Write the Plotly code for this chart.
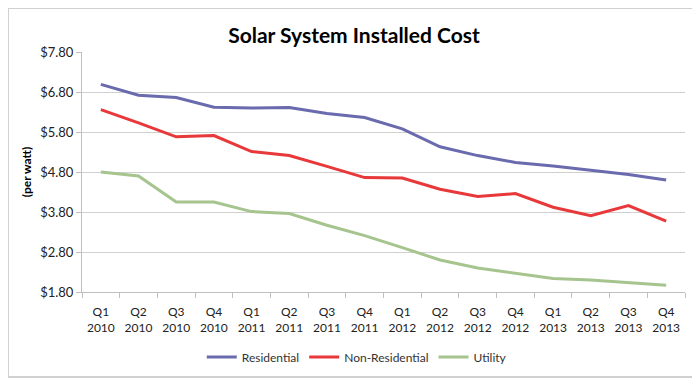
import plotly.graph_objects as go

quarters = ["Q1<br>2010", "Q2<br>2010", "Q3<br>2010", "Q4<br>2010",
            "Q1<br>2011", "Q2<br>2011", "Q3<br>2011", "Q4<br>2011",
            "Q1<br>2012", "Q2<br>2012", "Q3<br>2012", "Q4<br>2012",
            "Q1<br>2013", "Q2<br>2013", "Q3<br>2013", "Q4<br>2013"]
residential = [6.99, 6.72, 6.66, 6.42, 6.40, 6.41, 6.26, 6.16,
               5.88, 5.43, 5.21, 5.04, 4.95, 4.84, 4.74, 4.60]
non_residential = [6.36, 6.03, 5.68, 5.71, 5.31, 5.21, 4.94, 4.66,
                   4.65, 4.37, 4.19, 4.26, 3.92, 3.71, 3.96, 3.57]
utility = [4.80, 4.70, 4.05, 4.05, 3.81, 3.76, 3.47, 3.21,
           2.91, 2.60, 2.40, 2.27, 2.14, 2.10, 2.04, 1.97]
y_ticks = [1.8, 2.8, 3.8, 4.8, 5.8, 6.8, 7.8]

FONT = "Lato, Carlito, Calibri, sans-serif"

fig = go.Figure()
for name, vals, color in [("Residential", residential, "#6A6AAE"),
                          ("Non-Residential", non_residential, "#E8383A"),
                          ("Utility", utility, "#A6C48E")]:
    fig.add_trace(go.Scatter(x=quarters, y=vals, name=name, mode="lines",
                             line=dict(color=color, width=3)))

fig.update_layout(
    width=692, height=370,
    paper_bgcolor="white", plot_bgcolor="white",
    margin=dict(l=74, r=15, t=44, b=86, autoexpand=False),
    font=dict(family=FONT, size=12, color="#222"),
    title=dict(text="<b>Solar System Installed Cost</b>", x=0.5, xanchor="center",
               y=1 - 28 / 370, yanchor="middle", font=dict(size=21, color="#000", family=FONT)),
    showlegend=True,
    legend=dict(orientation="h", xref="container", yref="container",
                x=0.504, xanchor="center", y=1 - 349 / 370, yanchor="middle",
                font=dict(size=12, color="#333"), tracegroupgap=0),
    shapes=[dict(type="rect", xref="paper", yref="paper", x0=-74/603, x1=1+14/603,
                 y0=-85/240, y1=1+44/240, line=dict(color="#D0D0D0", width=2))],
)
fig.update_xaxes(type="category", showgrid=False, showline=True, linecolor="#BFBFBF",
                 linewidth=1, ticks="outside", tickson="boundaries", ticklen=5,
                 tickcolor="#BFBFBF", tickfont=dict(size=12, color="#222"),
                 ticklabelstandoff=9,
                 tickangle=0, range=[-0.5, 15.5], automargin=False)
fig.update_yaxes(range=[1.8, 7.8], tickvals=y_ticks, tickformat="$.2f",
                 showgrid=True, gridcolor="#D0D0D0", gridwidth=1,
                 showline=True, linecolor="#BFBFBF", ticks="outside", ticklen=5,
                 tickcolor="#BFBFBF", tickfont=dict(size=13, color="#222"),
                 title=dict(text="<b>(per watt)</b>", font=dict(size=12, color="#000"),
                            standoff=5), zeroline=False, automargin=False)

fig.write_html("out.html")
